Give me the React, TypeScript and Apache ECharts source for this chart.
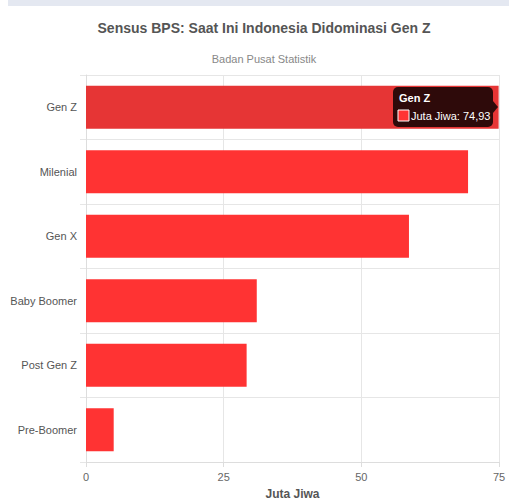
import React, { useEffect, useRef } from "react";
import * as echarts from "echarts";

const categories = ["Gen Z", "Milenial", "Gen X", "Baby Boomer", "Post Gen Z", "Pre-Boomer"];
const values = [74.93, 69.38, 58.65, 31.01, 29.17, 5.03];
const seriesName = "Juta Jiwa";
const titleText = "Sensus BPS: Saat Ini Indonesia Didominasi Gen Z";
const subtitleText = "Badan Pusat Statistik";
const highlighted = "Gen Z";

export default function App() {
  const ref = useRef<HTMLDivElement>(null);
  useEffect(() => {
    if (!ref.current) return;
    const chart = echarts.init(ref.current, undefined, { renderer: "svg" });
    const hiIdx = categories.indexOf(highlighted);
    const hiVal = values[hiIdx];
    chart.setOption({
      animation: false,
      backgroundColor: "#ffffff",
      title: [
        {
          text: titleText,
          left: 259,
          top: 16,
          textAlign: "center",
          textStyle: { fontFamily: "Liberation Sans, Arial, sans-serif", fontSize: 14, fontWeight: "bold", color: "#555555" },
        },
        {
          text: subtitleText,
          left: 259,
          top: 48,
          textAlign: "center",
          textStyle: { fontFamily: "Liberation Sans, Arial, sans-serif", fontSize: 11, fontWeight: "normal", color: "#888888" },
        },
      ],
      grid: { left: 86, right: 10, top: 75, bottom: 40, outerBoundsMode: "none", containLabel: false },
      xAxis: {
        type: "value",
        min: 0,
        max: 75,
        interval: 25,
        name: seriesName,
        nameLocation: "middle",
        nameGap: 26,
        nameTextStyle: { fontFamily: "Liberation Sans, Arial, sans-serif", fontSize: 12, fontWeight: "bold", color: "#555555" },
        axisLine: { show: true, lineStyle: { color: "#dddddd" } },
        axisTick: { show: true, length: 5, lineStyle: { color: "#dddddd" } },
        axisLabel: { fontFamily: "Liberation Sans, Arial, sans-serif", fontSize: 11, color: "#666666", margin: 9 },
        splitLine: { show: true, lineStyle: { color: "#e6e6e6" } },
      },
      yAxis: {
        type: "category",
        data: categories,
        inverse: true,
        axisLine: { show: true, lineStyle: { color: "#dddddd" } },
        axisTick: { show: true, length: 6, lineStyle: { color: "#e6e6e6" } },
        axisLabel: { fontFamily: "Liberation Sans, Arial, sans-serif", fontSize: 11, color: "#555555", margin: 9 },
        splitLine: { show: true, lineStyle: { color: "#e6e6e6" } },
      },
      series: [
        {
          type: "bar",
          name: seriesName,
          data: values.map((v, i) => ({
            value: v,
            itemStyle: { color: i === hiIdx ? "#e63535" : "#ff3333" },
          })),
          barCategoryGap: "33%",
        },
      ],
      graphic: [
        { type: "rect", left: 8, top: 0, shape: { width: 501, height: 6 }, style: { fill: "#e4e8f1" }, silent: true },
        {
          type: "group",
          x: 393,
          y: 87,
          z: 100,
          children: [
            { type: "rect", z: 100, x: 0, y: 0, shape: { width: 100, height: 40, r: 5 }, style: { fill: "rgba(0,0,0,0.8)" } },
            { type: "polygon", z: 100, shape: { points: [[100, 14], [105, 20], [100, 26]] }, style: { fill: "rgba(0,0,0,0.8)" } },
            {
              type: "text",
              z: 101,
              x: 6,
              y: 5,
              style: { text: highlighted, fill: "#ffffff", font: "bold 11px Liberation Sans, Arial, sans-serif" },
            },
            { type: "rect", z: 101, x: 5, y: 23, shape: { width: 11, height: 11 }, style: { fill: "#ff3333", stroke: "#ffffff", lineWidth: 1 } },
            {
              type: "text",
              z: 101,
              x: 18,
              y: 23,
              style: {
                text: seriesName + ": " + hiVal.toFixed(2).replace(".", ","),
                fill: "#ffffff",
                font: "11px Liberation Sans, Arial, sans-serif",
              },
            },
          ],
        },
      ],
    });
    return () => chart.dispose();
  }, []);
  return <div ref={ref} style={{ position: "absolute", left: 0, top: 0, width: 509, height: 502 }} />;
}
